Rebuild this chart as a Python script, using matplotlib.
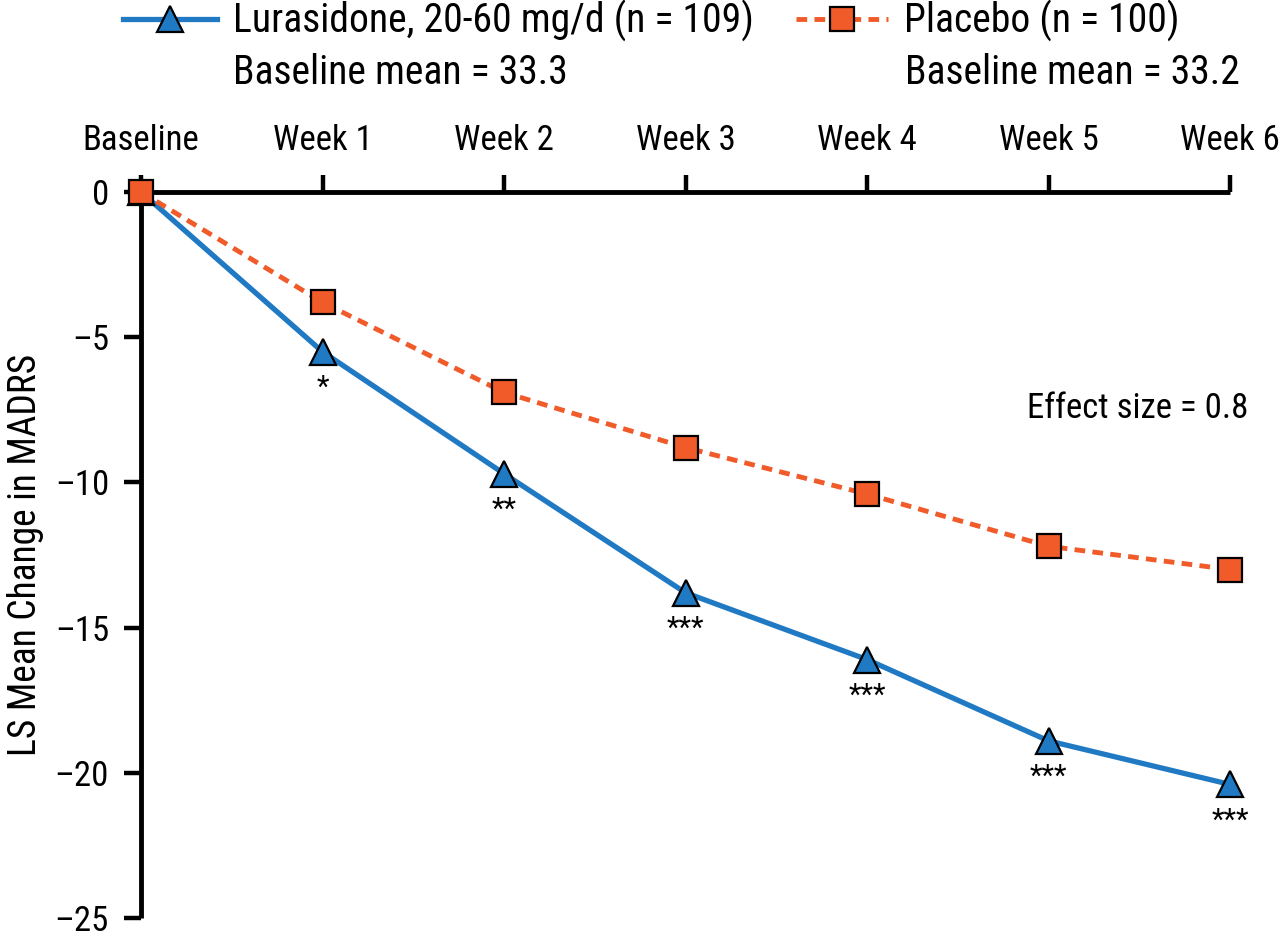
import matplotlib
matplotlib.use("Agg")
import matplotlib.pyplot as plt
from matplotlib import font_manager

fams = set(f.name for f in font_manager.fontManager.ttflist)
prefs = ["Roboto Condensed", "Liberation Sans Narrow", "Open Sans Condensed", "Liberation Sans", "Roboto", "DejaVu Sans"]
main_font = next(f for f in prefs if f in fams or f == "DejaVu Sans")
plt.rcParams['font.family'] = [main_font, 'DejaVu Sans']

categories = ["Baseline", "Week 1", "Week 2", "Week 3", "Week 4", "Week 5", "Week 6"]
lurasidone = [0, -5.5, -9.7, -13.8, -16.1, -18.9, -20.4]
placebo = [0, -3.8, -6.9, -8.8, -10.4, -12.2, -13.0]
stars = ["", "*", "**", "***", "***", "***", "***"]
yticks = [0, -5, -10, -15, -20, -25]
ytick_labels = ["0", "\u20135", "\u201310", "\u201315", "\u201320", "\u201325"]

blue = "#2079C3"
orange = "#F15A29"

fig = plt.figure(figsize=(12.8, 9.42), dpi=100)
ax = fig.add_axes([141/1280, 1-918/942, (1230-141)/1280, (918-192)/942])
x = list(range(len(categories)))

l1, = ax.plot(x, lurasidone, color=blue, lw=3.8, marker='^', ms=19,
              markerfacecolor=blue, markeredgecolor='black', markeredgewidth=1.6,
              clip_on=False, zorder=3, label="Lurasidone, 20-60 mg/d (n = 109)")
l2, = ax.plot(x, placebo, color=orange, lw=3.5, ls=(0, (2.2, 1.5)), marker='s', ms=17,
              markerfacecolor=orange, markeredgecolor='black', markeredgewidth=1.6,
              clip_on=False, zorder=4, label="Placebo (n = 100)")

for xi, yi, s in zip(x, lurasidone, stars):
    if s:
        ax.annotate(s, (xi, yi), xytext=(0, -26), textcoords='offset points',
                    ha='center', va='center', fontsize=21)

ax.set_xlim(0, 6)
ax.set_ylim(-25, 0)
ax.set_xticks(x)
ax.set_xticklabels(categories)
ax.set_yticks(yticks)
ax.set_yticklabels(ytick_labels)
ax.xaxis.tick_top()
ax.tick_params(axis='x', direction='out', length=12, width=3.2, pad=13, labelsize=25)
ax.tick_params(axis='y', direction='out', length=12, width=3.2, pad=11, labelsize=25)
for sp in ['bottom', 'right']:
    ax.spines[sp].set_visible(False)
for sp in ['top', 'left']:
    ax.spines[sp].set_linewidth(3.5)
    ax.spines[sp].set_capstyle('butt')
ax.set_ylabel("LS Mean Change in MADRS", fontsize=27, labelpad=8)

ax.text(6.1, -7.45, "Effect size = 0.8", ha='right', va='center', fontsize=25)

leg1 = fig.legend(handles=[l1], loc='center left', bbox_to_anchor=(123/1280, 1-21/942),
                  frameon=False, fontsize=28.5, handlelength=2.38, handletextpad=0.4,
                  borderpad=0, borderaxespad=0)
leg2 = fig.legend(handles=[l2], loc='center left', bbox_to_anchor=(796/1280, 1-21/942),
                  frameon=False, fontsize=28.5, handlelength=2.32, handletextpad=0.4,
                  borderpad=0, borderaxespad=0)
fig.text(233/1280, 1-84/942, "Baseline mean = 33.3", fontsize=28.5, va='baseline', ha='left')
fig.text(905/1280, 1-84/942, "Baseline mean = 33.2", fontsize=28.5, va='baseline', ha='left')

fig.savefig("out.png", dpi=100)
